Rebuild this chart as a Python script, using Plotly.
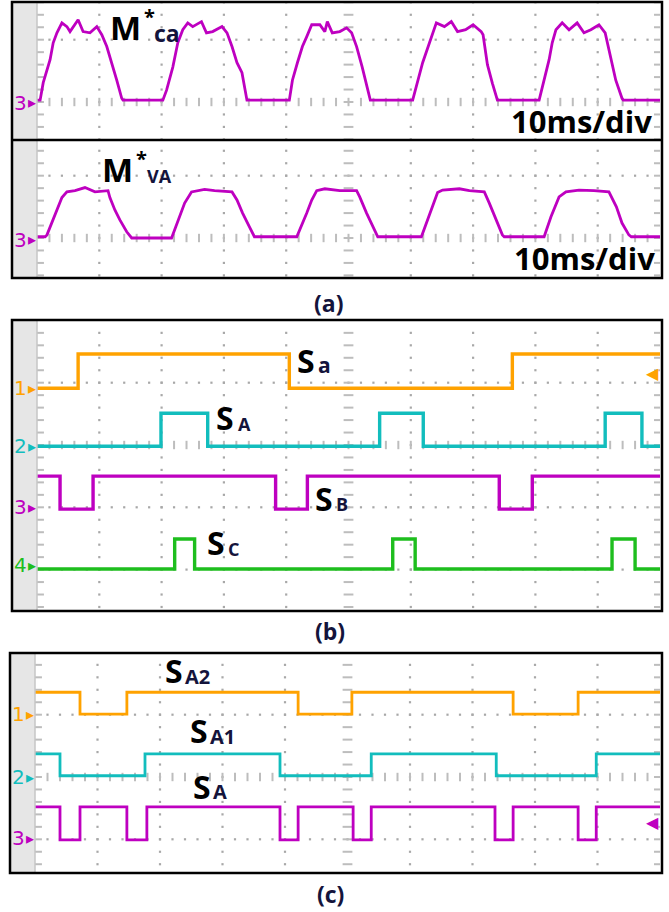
import plotly.graph_objects as go
import numpy as np

W, H = 669, 912
DIV = 62.3  # pixels per oscilloscope division

# ---------------- data (time in ms, 10 ms/div; amplitude in divisions) ----------------
# Panel (a) top: M*ca
mca_t = [0.0, 0.5, 1.0, 2.1, 2.6, 3.2, 4.0, 4.8, 5.3, 6.6, 7.4, 8.5, 9.6, 10.4, 11.2, 12.0, 12.8, 13.6, 13.8, 20.2,
         20.8, 21.8, 22.6, 23.4, 24.2, 25.0, 26.4, 27.2, 28.2, 29.7, 30.5, 31.3, 32.1, 32.9, 33.7, 40.5,
         41.0, 41.8, 42.6, 43.3, 44.1, 45.4, 46.2, 46.6, 47.4, 48.6, 49.7, 50.5, 51.3, 52.2, 53.4, 53.5, 60.3,
         61.1, 61.9, 63.0, 64.1, 65.4, 66.5, 67.5, 68.8, 70.0, 71.3, 71.6, 72.3, 73.1, 73.9, 80.6,
         81.4, 82.2, 82.7, 83.3, 84.3, 85.4, 86.7, 87.8, 88.9, 90.2, 91.2, 92.1, 92.9, 93.9, 94.1, 100.0]
mca_v = [0.03, 0.03, 0.31, 0.68, 0.95, 1.11, 1.27, 1.21, 1.13, 1.32, 1.13, 1.11, 1.21, 1.08, 0.89, 0.63, 0.35, 0.06, 0.03, 0.03,
         0.19, 0.56, 0.95, 1.16, 1.27, 1.21, 1.29, 1.11, 1.13, 1.21, 1.11, 0.89, 0.63, 0.47, 0.03, 0.03,
         0.35, 0.63, 0.89, 1.05, 1.24, 1.24, 1.13, 1.29, 1.11, 1.13, 1.19, 1.11, 0.89, 0.56, 0.08, 0.03, 0.03,
         0.35, 0.63, 0.95, 1.27, 1.21, 1.29, 1.13, 1.16, 1.24, 1.13, 1.08, 0.60, 0.30, 0.03, 0.03,
         0.35, 0.68, 0.95, 1.16, 1.27, 1.16, 1.27, 1.11, 1.16, 1.24, 1.11, 0.68, 0.35, 0.06, 0.03, 0.03]

# Panel (a) bottom: M*VA
mva_t = [0.0, 1.3, 1.6, 2.4, 3.2, 4.0, 4.8, 6.1, 7.7, 9.3, 11.4, 11.7, 12.5, 13.3, 14.4, 15.2, 21.6,
         22.1, 22.9, 23.7, 24.8, 26.9, 28.5, 31.3, 32.1, 33.0, 34.1, 34.9, 41.7,
         42.2, 43.3, 44.1, 44.9, 46.2, 48.6, 51.3, 51.8, 52.9, 53.9, 54.7, 61.7,
         62.5, 63.5, 64.3, 65.1, 67.8, 69.4, 71.8, 72.6, 73.7, 74.7, 75.0, 81.4,
         82.5, 83.8, 84.9, 87.0, 89.4, 91.8, 93.0, 93.9, 95.0, 95.4, 100.0]
mva_v = [0.02, 0.02, 0.05, 0.24, 0.45, 0.65, 0.74, 0.76, 0.81, 0.74, 0.76, 0.65, 0.45, 0.29, 0.10, 0.0, 0.0,
         0.13, 0.34, 0.56, 0.74, 0.78, 0.76, 0.74, 0.61, 0.40, 0.18, 0.02, 0.02,
         0.13, 0.40, 0.61, 0.76, 0.79, 0.76, 0.76, 0.66, 0.40, 0.18, 0.02, 0.02,
         0.24, 0.50, 0.73, 0.77, 0.79, 0.76, 0.74, 0.56, 0.29, 0.05, 0.02, 0.02,
         0.34, 0.66, 0.74, 0.77, 0.76, 0.74, 0.50, 0.24, 0.05, 0.02, 0.02]

# Panel (b): switching signals -> edge times (ms), initial state, (low, high) levels in div
Sa_edges = [6.6, 40.5, 76.3];                      Sa_init = 0; Sa_lv = (0.91, 1.46)
SA_edges = [19.9, 27.4, 55.0, 62.0, 91.2, 97.1];   SA_init = 0; SA_lv = (-0.02, 0.51)
SB_edges = [3.7, 9.0, 38.3, 43.4, 74.2, 79.5];     SB_init = 1; SB_lv = (-1.03, -0.50)
SC_edges = [22.1, 25.3, 57.1, 60.7, 92.3, 96.0];   SC_init = 0; SC_lv = (-1.99, -1.51)

# Panel (c)
SA2_edges = [7.2, 14.7, 42.1, 50.7, 76.5, 86.9];   SA2_init = 1; SA2_lv = (1.01, 1.36)
SA1_edges = [4.0, 17.6, 39.2, 53.8, 73.8, 89.8];   SA1_init = 1; SA1_lv = (0.02, 0.37)
SAc_edges = [4.0, 7.2, 14.7, 17.9, 39.2, 42.1, 50.9, 53.8, 73.6, 76.5, 86.9, 89.8]
SAc_init = 1; SAc_lv = (-1.01, -0.48)

ORANGE, CYAN, MAGENTA, GREEN = '#FFA200', '#12BDBD', '#BE00C0', '#1EBE1E'

# ---------------- layout geometry ----------------
panels = [
    dict(n='', x0=37, x1=660, y0=2, y1=140, yc=102),
    dict(n='2', x0=37, x1=660, y0=140, y1=277, yc=238),
    dict(n='3', x0=37, x1=660, y0=321, y1=610, yc=445),
    dict(n='4', x0=35, x1=660, y0=654, y1=872, yc=777),
]

fig = go.Figure()
layout = dict(width=W, height=H, margin=dict(l=0, r=0, t=0, b=0),
              paper_bgcolor='white', plot_bgcolor='white', showlegend=False)

GRIDC = '#a8a8a8'
for p in panels:
    ymin = -(p['y1'] - p['yc']) / DIV
    ymax = (p['yc'] - p['y0']) / DIV
    layout['xaxis' + p['n']] = dict(domain=[p['x0'] / W, p['x1'] / W], range=[0, 100], visible=False,
                                    fixedrange=True, anchor='y' + p['n'])
    layout['yaxis' + p['n']] = dict(domain=[1 - p['y1'] / H, 1 - p['y0'] / H], range=[ymin, ymax],
                                    visible=False, fixedrange=True, anchor='x' + p['n'])
    xa, ya = 'x' + p['n'], 'y' + p['n']
    steps = np.arange(np.ceil(ymin / 0.2), np.floor(ymax / 0.2) + 1) * 0.2
    # dotted grid
    dx, dy = [], []
    for xv in [10, 20, 30, 40, 60, 70, 80, 90]:
        for yv in steps:
            dx.append(xv); dy.append(yv)
    for k in range(int(np.ceil(ymin)), int(np.floor(ymax)) + 1):
        if k == 0:
            continue
        for xv in np.arange(2, 100, 2):
            dx.append(xv); dy.append(k)
    fig.add_trace(go.Scatter(x=dx, y=dy, xaxis=xa, yaxis=ya, mode='markers', hoverinfo='skip',
                             marker=dict(symbol='square', size=2.2, color=GRIDC, line=dict(width=0))))
    # centre horizontal ticks
    hx = list(np.arange(2, 100, 2))
    fig.add_trace(go.Scatter(x=hx, y=[0] * len(hx), xaxis=xa, yaxis=ya, mode='markers', hoverinfo='skip',
                             marker=dict(symbol='line-ns', size=6, line=dict(color='#bdbdbd', width=2))))
    # centre vertical ticks + edge ticks
    fig.add_trace(go.Scatter(x=[50] * len(steps), y=steps, xaxis=xa, yaxis=ya, mode='markers', hoverinfo='skip',
                             marker=dict(symbol='line-ew', size=7, line=dict(color='#bdbdbd', width=2))))
    fig.add_trace(go.Scatter(x=[0.55] * len(steps) + [99.6] * len(steps), y=list(steps) * 2, xaxis=xa, yaxis=ya,
                             mode='markers', hoverinfo='skip',
                             marker=dict(symbol='line-ew', size=5, line=dict(color='#bdbdbd', width=2))))


def square(edges, init, lv):
    xs = [0.0] + list(edges) + [100.0]
    st = init
    ys = [lv[st]]
    for _ in edges:
        st = 1 - st
        ys.append(lv[st])
    ys.append(ys[-1])
    return xs, ys


def add_line(x, y, color, n, shape='linear', w=2.6):
    fig.add_trace(go.Scatter(x=x, y=y, xaxis='x' + n, yaxis='y' + n, mode='lines', hoverinfo='skip',
                             line=dict(color=color, width=w, shape=shape)))


add_line(mca_t, mca_v, MAGENTA, '', w=2.8)
add_line(mva_t, mva_v, MAGENTA, '2', w=2.8)
for e, i, lv, c in [(Sa_edges, Sa_init, Sa_lv, ORANGE), (SA_edges, SA_init, SA_lv, CYAN),
                    (SB_edges, SB_init, SB_lv, MAGENTA), (SC_edges, SC_init, SC_lv, GREEN)]:
    xs, ys = square(e, i, lv)
    add_line(xs, ys, c, '3', shape='hv', w=3.4)
for e, i, lv, c in [(SA2_edges, SA2_init, SA2_lv, ORANGE), (SA1_edges, SA1_init, SA1_lv, CYAN),
                    (SAc_edges, SAc_init, SAc_lv, MAGENTA)]:
    xs, ys = square(e, i, lv)
    add_line(xs, ys, c, '4', shape='hv', w=2.8)

# ---------------- frames & strips ----------------
shapes = []


def px_rect(x0, y0, x1, y1, **kw):
    return dict(type='rect', xref='paper', yref='paper', x0=x0 / W, x1=x1 / W, y0=1 - y1 / H, y1=1 - y0 / H, **kw)


def px_line(x0, y0, x1, y1, **kw):
    return dict(type='line', xref='paper', yref='paper', x0=x0 / W, x1=x1 / W, y0=1 - y0 / H, y1=1 - y1 / H, **kw)


for (fx0, fy0, fx1, fy1, sx) in [(12, 2, 662, 278, 37), (12, 320, 662, 611, 37), (10, 653, 662, 873, 35)]:
    shapes.append(px_rect(fx0, fy0, sx, fy1, fillcolor='#e6e6e6', line=dict(width=0), layer='below'))
    shapes.append(px_line(sx, fy0, sx, fy1, line=dict(color='#c6c6c6', width=1.5), layer='above'))
    shapes.append(px_rect(fx0, fy0, fx1, fy1, line=dict(color='black', width=2.5), layer='above'))
shapes.append(px_line(12, 140, 662, 140, line=dict(color='black', width=2.5), layer='above'))
layout['shapes'] = shapes

# ---------------- texts ----------------
ann = []
BF = 'Open Sans'


def txt(s, x, y, size, color='black', bold=True, xanchor='left', font=BF):
    ann.append(dict(text=('<b>%s</b>' % s) if bold else s, x=x / W, y=1 - y / H, xref='paper', yref='paper',
                    xanchor=xanchor, yanchor='middle', showarrow=False,
                    font=dict(family=font, size=size, color=color)))


SUB = '#14143c'
txt('M', 108, 28, 33)
txt('*', 142, 17, 20)
txt('ca', 152, 33, 23, SUB)
txt('M', 100, 170, 33)
txt('*', 134, 159, 20)
txt('VA', 145, 176.5, 18, SUB)
txt('10ms/div', 654, 121, 31, xanchor='right')
txt('10ms/div', 657, 258, 31, xanchor='right')

txt('S', 295, 361, 32); txt('a', 316, 365, 21, SUB)
txt('S', 214, 418, 32); txt('A', 236, 423.5, 18, SUB)
txt('S', 313, 498, 32); txt('B', 334, 503.5, 18, SUB)
txt('S', 205, 542, 32); txt('C', 226, 549, 18, SUB)

txt('S', 163, 670, 32); txt('A2', 183, 676, 20, SUB)
txt('S', 188, 730, 32); txt('A1', 208, 736, 20, SUB)
txt('S', 191, 786, 32); txt('A', 211, 791, 20, SUB)

txt('(a)', 328, 303, 23, SUB, xanchor='center')
txt('(b)', 330, 631, 23, SUB, xanchor='center')
txt('(c)', 330, 894, 23, SUB, xanchor='center')

# channel markers
for ch, yy, c in [('3', 103, MAGENTA), ('3', 240, MAGENTA), ('1', 388, ORANGE), ('2', 446, CYAN),
                  ('3', 507, MAGENTA), ('4', 565, GREEN), ('1', 714, ORANGE), ('2', 777, CYAN), ('3', 838, MAGENTA)]:
    x0 = 12 if yy < 650 else 10
    txt(ch, x0, yy, 20, c, bold=False, font='DejaVu Sans')
    txt('▸', x0 + 14, yy, 16, c, bold=False, font='DejaVu Sans')
# trigger level arrows
txt('◀', 661, 373, 16, ORANGE, bold=False, xanchor='right', font='DejaVu Sans')
txt('◀', 661, 822, 16, MAGENTA, bold=False, xanchor='right', font='DejaVu Sans')

layout['annotations'] = ann
fig.update_layout(**layout)
fig.write_html('out.html')
